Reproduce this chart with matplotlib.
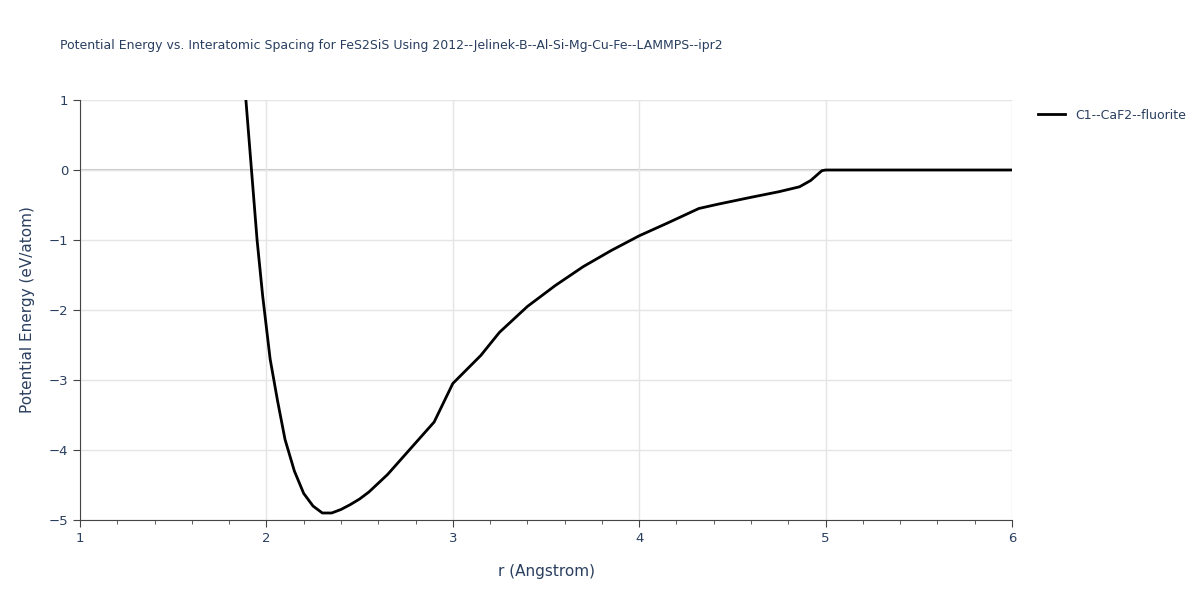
import matplotlib
matplotlib.use("Agg")
import matplotlib.pyplot as plt

r = [1.89, 1.92, 1.95, 1.98, 2.02, 2.06, 2.10, 2.15, 2.20, 2.25, 2.30, 2.35, 2.40, 2.45,
     2.50, 2.55, 2.65, 2.80, 2.90, 3.00, 3.15, 3.25, 3.40, 3.55, 3.70, 3.85, 4.00, 4.15, 4.32, 4.42,
     4.60, 4.75, 4.86, 4.92, 4.98, 5.00, 5.5, 6.0]
E = [1.0, 0.0, -1.0, -1.8, -2.7, -3.3, -3.85, -4.3, -4.62, -4.8, -4.9, -4.9, -4.85, -4.78,
     -4.7, -4.6, -4.35, -3.9, -3.6, -3.05, -2.65, -2.32, -1.95, -1.65, -1.38, -1.15, -0.94, -0.76, -0.55, -0.49,
     -0.39, -0.31, -0.24, -0.15, -0.01, 0.0, 0.0, 0.0]
series_name = "C1--CaF2--fluorite"
title = "Potential Energy vs. Interatomic Spacing for FeS2SiS Using 2012--Jelinek-B--Al-Si-Mg-Cu-Fe--LAMMPS--ipr2"

fig = plt.figure(figsize=(12, 6), dpi=100)
ax = fig.add_axes([80/1200, 80/600, 932/1200, 420/600])
tc = "#2a3f5f"
ax.plot(r, E, color="black", lw=2, label=series_name, zorder=3)
ax.set_xlim(1, 6)
ax.set_ylim(-5, 1)
ax.set_xticks([1, 2, 3, 4, 5, 6])
ax.set_xticks([1.2,1.4,1.6,1.8,2.2,2.4,2.6,2.8,3.2,3.4,3.6,3.8,4.2,4.4,4.6,4.8,5.2,5.4,5.6,5.8], minor=True)
ax.set_yticks([1, 0, -1, -2, -3, -4, -5])
ax.set_yticklabels(["1", "0", "\u22121", "\u22122", "\u22123", "\u22124", "\u22125"])
ax.grid(True, color="#e5e5e5", lw=1, zorder=0)
ax.axhline(0, color="#c8c8c8", lw=1.5, zorder=1)
for s in ["top", "right"]:
    ax.spines[s].set_visible(False)
ax.spines["left"].set_color("#444")
ax.spines["bottom"].set_color("#444")
ax.tick_params(colors="#444", labelcolor=tc, labelsize=9.5, length=5)
ax.tick_params(which="minor", length=3, color="#444")
ax.set_xlabel("r (Angstrom)", color=tc, fontsize=11, labelpad=14)
ax.set_ylabel("Potential Energy (eV/atom)", color=tc, fontsize=11, labelpad=10)
fig.text(60/1200, 1-45/600, title, color=tc, fontsize=9, va="center")
leg = ax.legend(loc="upper left", bbox_to_anchor=(1.018, 1.0), frameon=False, fontsize=9,
                handlelength=2.2, borderaxespad=0.3)
for t in leg.get_texts():
    t.set_color(tc)
fig.savefig("out.png", dpi=100)
